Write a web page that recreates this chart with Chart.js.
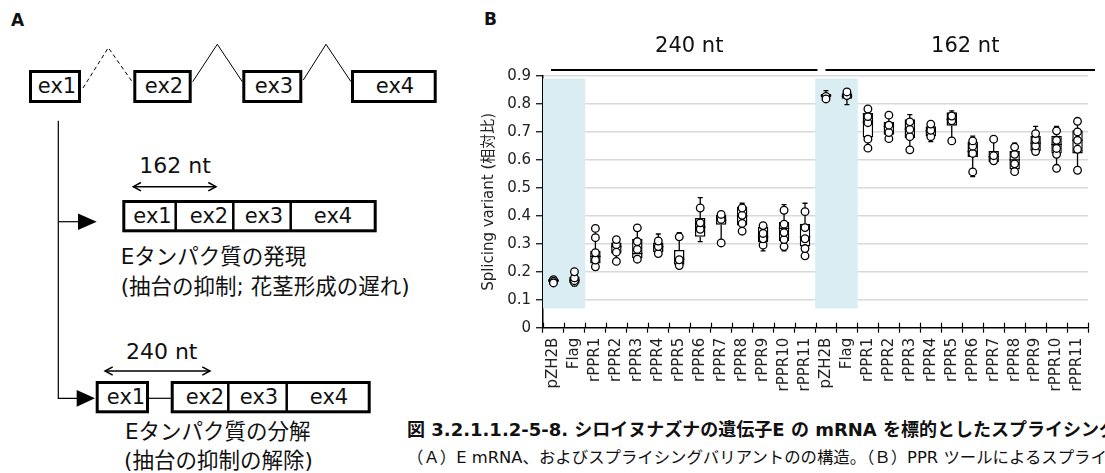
<!DOCTYPE html>
<html>
<head>
<meta charset="utf-8">
<script src="https://cdn.jsdelivr.net/npm/chart.js@4"></script>
<style>
  html, body { margin: 0; padding: 0; background: #fff; }
  body { width: 1105px; height: 473px; overflow: hidden; position: relative;
         font-family: "DejaVu Sans", "Noto Sans CJK JP", sans-serif; color: #111; }
  .panel { position: absolute; font-weight: bold; font-size: 17px; }
  #diagram { position: absolute; left: 0; top: 0; }
  #wrap { position: absolute; left: 480px; top: 0; width: 625px; height: 410px; }
  #caption { position: absolute; left: 407px; top: 416px; width: 698px; overflow: hidden;
             white-space: nowrap; font-size: 16.4px; line-height: 27px; }
  #caption b { font-weight: bold; font-size: 18px; }
</style>
</head>
<body>
<div class="panel" style="left:11px;top:10px;">A</div>
<div class="panel" style="left:484px;top:9px;">B</div>

<svg id="diagram" width="440" height="473" font-family="DejaVu Sans, Noto Sans CJK JP" fill="#111">
  <!-- pre-mRNA -->
  <g fill="none" stroke="#000" stroke-width="3">
    <rect x="30.5" y="71.5" width="49" height="30"/>
    <rect x="134.8" y="71.5" width="55.4" height="30"/>
    <rect x="243.8" y="71.5" width="57" height="30"/>
    <rect x="352.5" y="71.5" width="82.7" height="30"/>
  </g>
  <polyline points="83,88 108.3,47.7 131.7,81" fill="none" stroke="#000" stroke-width="1" stroke-dasharray="4,3"/>
  <polyline points="192.7,81.7 217.3,44.3 242.3,81.7" fill="none" stroke="#000" stroke-width="1"/>
  <polyline points="303.3,80 326,44.3 351,81.7" fill="none" stroke="#000" stroke-width="1"/>
  <g font-size="21" text-anchor="middle" dominant-baseline="central">
    <text x="57" y="86">ex1</text>
    <text x="164" y="86">ex2</text>
    <text x="274" y="86">ex3</text>
    <text x="395" y="86">ex4</text>
  </g>

  <!-- branches -->
  <polyline points="58.3,120.7 58.3,398.3 80,398.3" fill="none" stroke="#000" stroke-width="1.2"/>
  <line x1="58.3" y1="221.7" x2="80" y2="221.7" stroke="#000" stroke-width="1.2"/>
  <polygon points="78,213.5 96.7,221.7 78,230" fill="#000"/>
  <polygon points="76.7,390 95,398.3 76.7,406.7" fill="#000"/>

  <!-- 162 nt variant -->
  <text x="175" y="165" font-size="22" text-anchor="middle" dominant-baseline="central">162 nt</text>
  <g fill="none" stroke="#000" stroke-width="1.5">
    <line x1="133.3" y1="186.7" x2="216" y2="186.7"/>
    <polyline points="141,182.5 133.3,186.7 141,190.9"/>
    <polyline points="208.3,182.5 216,186.7 208.3,190.9"/>
  </g>
  <rect x="123.8" y="201.5" width="251.4" height="29.3" fill="none" stroke="#000" stroke-width="3"/>
  <g stroke="#000" stroke-width="2.5">
    <line x1="175.7" y1="201" x2="175.7" y2="231"/>
    <line x1="233.3" y1="201" x2="233.3" y2="231"/>
    <line x1="290.7" y1="201" x2="290.7" y2="231"/>
  </g>
  <g font-size="21" text-anchor="middle" dominant-baseline="central">
    <text x="152.5" y="216">ex1</text>
    <text x="209" y="216">ex2</text>
    <text x="264" y="216">ex3</text>
    <text x="333" y="216">ex4</text>
  </g>
  <g font-size="21.5" dominant-baseline="central">
    <text x="120.7" y="256.7">Eタンパク質の発現</text>
    <text x="120.7" y="286">(抽台の抑制; 花茎形成の遅れ)</text>
  </g>

  <!-- 240 nt variant -->
  <text x="161.7" y="351.7" font-size="22" text-anchor="middle" dominant-baseline="central">240 nt</text>
  <g fill="none" stroke="#000" stroke-width="1.5">
    <line x1="105" y1="371" x2="210" y2="371"/>
    <polyline points="112.7,366.8 105,371 112.7,375.2"/>
    <polyline points="202.3,366.8 210,371 202.3,375.2"/>
  </g>
  <rect x="97.2" y="382.5" width="50.3" height="29.3" fill="none" stroke="#000" stroke-width="3"/>
  <line x1="149" y1="398.3" x2="170.7" y2="398.3" stroke="#000" stroke-width="1.2"/>
  <rect x="172.2" y="382.5" width="197" height="29.3" fill="none" stroke="#000" stroke-width="3"/>
  <g stroke="#000" stroke-width="2.5">
    <line x1="228.3" y1="382" x2="228.3" y2="412"/>
    <line x1="286.7" y1="382" x2="286.7" y2="412"/>
  </g>
  <g font-size="21" text-anchor="middle" dominant-baseline="central">
    <text x="126" y="396.7">ex1</text>
    <text x="205" y="396.7">ex2</text>
    <text x="259" y="396.7">ex3</text>
    <text x="329" y="396.7">ex4</text>
  </g>
  <g font-size="21.5" dominant-baseline="central">
    <text x="125" y="431.7">Eタンパク質の分解</text>
    <text x="124" y="460">(抽台の抑制の解除)</text>
  </g>
</svg>

<div id="wrap"><canvas id="myChart" width="625" height="410"></canvas></div>

<div id="caption">
  <b>図 3.2.1.1.2-5-8.  シロイヌナズナの遺伝子E の mRNA を標的としたスプライシング</b><br>
  （Ａ）E mRNA、およびスプライシングバリアントのの構造。（Ｂ）PPR ツールによるスプライシング
</div>

<script>
const ctx = document.getElementById('myChart');

// categories: the same 13 constructs measured for both splice variants
const variants = ['pZH2B', 'Flag', 'rPPR1', 'rPPR2', 'rPPR3', 'rPPR4', 'rPPR5',
                  'rPPR6', 'rPPR7', 'rPPR8', 'rPPR9', 'rPPR10', 'rPPR11'];
const groups = ['240 nt', '162 nt'];
const labels = [...variants, ...variants];
const controls = [0, 1, 13, 14];          // shaded control columns
const controlRange = [0.07, 0.89];

// box plot statistics (relative ratio)
const whiskerLow  = [0.160, 0.150, 0.218, 0.235, 0.240, 0.262, 0.220, 0.308, 0.300, 0.335, 0.275, 0.275, 0.255,
                     0.818, 0.798, 0.640, 0.675, 0.635, 0.665, 0.665, 0.540, 0.590, 0.555, 0.625, 0.570, 0.563];
const q1          = [0.163, 0.160, 0.230, 0.265, 0.248, 0.270, 0.225, 0.325, 0.368, 0.365, 0.305, 0.310, 0.290,
                     0.825, 0.819, 0.680, 0.690, 0.678, 0.685, 0.722, 0.610, 0.592, 0.566, 0.632, 0.623, 0.623];
const median      = [0.168, 0.170, 0.255, 0.290, 0.265, 0.290, 0.245, 0.360, 0.385, 0.400, 0.325, 0.355, 0.325,
                     0.830, 0.828, 0.735, 0.720, 0.710, 0.705, 0.745, 0.630, 0.612, 0.600, 0.660, 0.655, 0.670];
const q3          = [0.174, 0.181, 0.275, 0.305, 0.318, 0.305, 0.278, 0.392, 0.403, 0.433, 0.360, 0.378, 0.372,
                     0.836, 0.838, 0.768, 0.736, 0.745, 0.720, 0.770, 0.665, 0.632, 0.632, 0.686, 0.686, 0.706];
const whiskerHigh = [0.177, 0.200, 0.360, 0.320, 0.360, 0.335, 0.340, 0.465, 0.412, 0.445, 0.370, 0.440, 0.445,
                     0.848, 0.850, 0.782, 0.765, 0.762, 0.730, 0.775, 0.685, 0.675, 0.660, 0.720, 0.720, 0.740];
// individual measurements
const points = [
  [0.160, 0.166, 0.172],
  [0.200, 0.178, 0.168, 0.162],
  [0.355, 0.322, 0.268, 0.242, 0.218],
  [0.315, 0.297, 0.270, 0.237],
  [0.357, 0.308, 0.280, 0.245],
  [0.310, 0.290, 0.265],
  [0.325, 0.243, 0.222],
  [0.428, 0.375, 0.352],
  [0.405, 0.387, 0.303],
  [0.428, 0.402, 0.373, 0.345],
  [0.365, 0.337, 0.318, 0.295],
  [0.420, 0.370, 0.340, 0.315, 0.290],
  [0.415, 0.358, 0.318, 0.283, 0.257],
  [0.818, 0.827],
  [0.843, 0.830],
  [0.782, 0.755, 0.733, 0.674, 0.642],
  [0.760, 0.724, 0.698, 0.676],
  [0.736, 0.709, 0.683, 0.636],
  [0.728, 0.706, 0.683],
  [0.757, 0.740, 0.668],
  [0.668, 0.649, 0.623, 0.557],
  [0.674, 0.615, 0.597],
  [0.646, 0.620, 0.586, 0.558],
  [0.694, 0.673, 0.650, 0.630],
  [0.704, 0.670, 0.641, 0.620, 0.570],
  [0.738, 0.700, 0.670, 0.638, 0.563]
];

const FONT = '"DejaVu Sans", "Noto Sans CJK JP", sans-serif';
Chart.defaults.font.family = FONT;

// one scatter-like dataset per point rank, so every point sits on its category
const maxPts = Math.max(...points.map(p => p.length));
const pointSets = [];
for (let k = 0; k < maxPts; k++) {
  pointSets.push({
    type: 'line',
    data: points.map(p => p[k] ?? null),
    showLine: false,
    pointRadius: 3.8,
    pointBorderWidth: 1.3,
    pointBackgroundColor: '#fff',
    pointBorderColor: '#000',
    order: 1
  });
}

// whiskers, medians, crossing x ticks and group headers
const boxExtras = {
  id: 'boxExtras',
  afterDatasetDraw(chart, args) {
    if (args.index !== 1) return;
    const { ctx, scales: { x, y } } = chart;
    const bars = chart.getDatasetMeta(1).data;
    ctx.save();
    ctx.strokeStyle = '#000';
    ctx.lineWidth = 1.3;
    labels.forEach((_, i) => {
      const cx = x.getPixelForValue(i);
      const hw = bars[i].width / 2;
      ctx.beginPath();
      ctx.moveTo(cx, y.getPixelForValue(whiskerHigh[i]));
      ctx.lineTo(cx, y.getPixelForValue(q3[i]));
      ctx.moveTo(cx, y.getPixelForValue(q1[i]));
      ctx.lineTo(cx, y.getPixelForValue(whiskerLow[i]));
      ctx.moveTo(cx - 2.5, y.getPixelForValue(whiskerHigh[i]));
      ctx.lineTo(cx + 2.5, y.getPixelForValue(whiskerHigh[i]));
      ctx.moveTo(cx - 2.5, y.getPixelForValue(whiskerLow[i]));
      ctx.lineTo(cx + 2.5, y.getPixelForValue(whiskerLow[i]));
      ctx.moveTo(cx - hw, y.getPixelForValue(median[i]));
      ctx.lineTo(cx + hw, y.getPixelForValue(median[i]));
      ctx.stroke();
    });
    ctx.restore();
  },
  afterDraw(chart) {
    const { ctx, chartArea: area, scales: { x } } = chart;
    ctx.save();
    // upper half of the x tick marks
    ctx.strokeStyle = '#000';
    ctx.lineWidth = 1.2;
    const step = x.getPixelForValue(1) - x.getPixelForValue(0);
    for (let i = 0; i <= labels.length; i++) {
      const px = Math.round(x.getPixelForValue(i) - step / 2) + 0.5;
      ctx.beginPath();
      ctx.moveTo(px, area.bottom - 5);
      ctx.lineTo(px, area.bottom);
      ctx.stroke();
    }
    // group headers
    const split = (x.getPixelForValue(variants.length - 1) + x.getPixelForValue(variants.length)) / 2;
    const spans = [[area.left + 8, split + 2], [split + 10, area.right + 7]];
    ctx.lineWidth = 2.2;
    ctx.fillStyle = '#111';
    ctx.font = '21px ' + FONT;
    ctx.textAlign = 'center';
    ctx.textBaseline = 'middle';
    spans.forEach(([a, b], g) => {
      ctx.beginPath();
      ctx.moveTo(a, 70);
      ctx.lineTo(b, 70);
      ctx.stroke();
      ctx.fillText(groups[g], (a + b) / 2 + 5, 47);
    });
    ctx.restore();
  }
};

new Chart(ctx, {
  type: 'bar',
  data: {
    labels: labels,
    datasets: [
      {
        data: labels.map((_, i) => controls.includes(i) ? controlRange : null),
        backgroundColor: '#daedf3',
        borderWidth: 0,
        barPercentage: 1,
        categoryPercentage: 1,
        grouped: false,
        order: 3
      },
      {
        data: labels.map((_, i) => [q1[i], q3[i]]),
        backgroundColor: '#fff',
        borderColor: '#000',
        borderWidth: 1.5,
        borderSkipped: false,
        barPercentage: 0.5,
        categoryPercentage: 1,
        grouped: false,
        order: 2
      },
      ...pointSets
    ]
  },
  options: {
    responsive: false,
    animation: false,
    events: [],
    layout: { padding: { top: 76, right: 17, left: 0, bottom: 0 } },
    plugins: { legend: { display: false }, tooltip: { enabled: false } },
    scales: {
      x: {
        afterFit: s => { s.height = 82.3; },
        grid: { display: true, drawOnChartArea: false, offset: true, tickLength: 5,
                tickColor: '#000', tickWidth: 1.2 },
        border: { color: '#000', width: 1.5 },
        ticks: { minRotation: 90, maxRotation: 90, autoSkip: false, padding: 5,
                 color: '#222', font: { size: 15 } }
      },
      y: {
        min: 0,
        max: 0.9,
        afterFit: s => { s.width = 63; },
        grid: { color: c => c.tick.value === 0 ? 'rgba(0,0,0,0)' : '#d9d9d9', lineWidth: 1.5,
                tickColor: '#000', tickLength: 7, tickWidth: 1.2 },
        border: { color: '#000', width: 1.5 },
        ticks: { stepSize: 0.1, padding: 5, color: '#222', font: { size: 15 } },
        title: { display: true, text: 'Splicing variant (相対比)', color: '#222',
                 font: { size: 15 }, padding: 0 }
      }
    }
  },
  plugins: [boxExtras]
});
</script>
</body>
</html>
